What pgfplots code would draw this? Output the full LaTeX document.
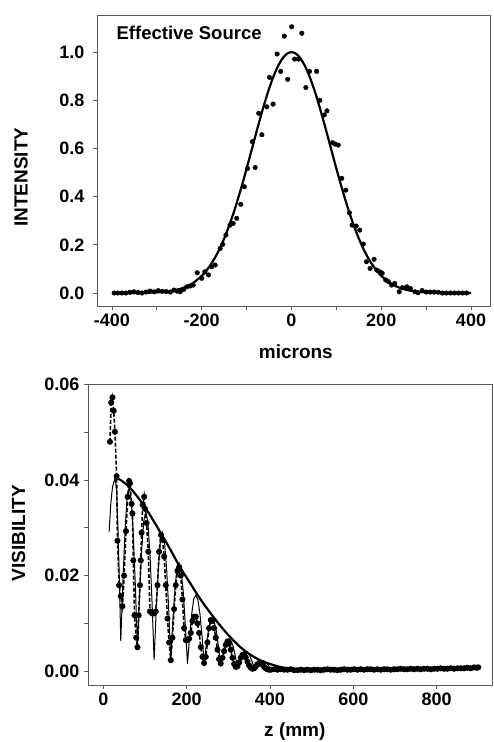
\documentclass[border=0pt]{standalone}
\usepackage{fontspec}
\setmainfont{Liberation Sans}
\usepackage{pgfplots}
\pgfplotsset{compat=1.18}
\pgfplotsset{
  mystyle/.style={
    scale only axis,
    axis line style={black!65, line width=0.8pt},
    tick style={black!65, line width=0.8pt},
    tick align=outside, major tick length=4pt, minor tick length=4pt,
    xtick pos=lower, ytick pos=left,
    ticklabel style={font=\fontsize{18}{20}\selectfont\bfseries},
    /pgf/number format/assume math mode=true,
    clip=true,
  }
}
\begin{document}
\begin{tikzpicture}[x=1pt,y=1pt]
\path[use as bounding box] (0,0) rectangle (493,-742);
% ---------------- top panel ----------------
\begin{axis}[mystyle,
  width=393pt, height=291pt,
  at={(97pt,-306pt)}, anchor=south west,
  xmin=-433.4, xmax=442.3, ymin=-0.054, ymax=1.154,
  xtick={-400,-200,0,200,400}, minor xtick={-300,-100,100,300},
  ytick={0,0.2,0.4,0.6,0.8,1.0},
  yticklabel style={/pgf/number format/fixed, /pgf/number format/fixed zerofill, /pgf/number format/precision=1, xshift=-5pt},
  xlabel={microns}, ylabel={INTENSITY},
  every axis x label/.style={at={(axis description cs:0.506,-0.158)},anchor=center,font=\fontsize{19}{22}\selectfont\bfseries},
  every axis y label/.style={at={(axis description cs:-0.193,0.443)},anchor=center,rotate=90,font=\fontsize{19}{22}\selectfont\bfseries},
]
\addplot[only marks, mark=*, mark size=2.3pt, black] coordinates {
(-395,0.0) (-387,0.0) (-378,0.0) (-369,0.0) (-360,0.003) (-351,0.005) (-342,0.002)
(-333,0.0) (-324,0.004) (-315,0.008) (-306,0.005) (-297,0.01) (-288,0.007) (-279,0.006)
(-270,0.004) (-262,0.012) (-255,0.008) (-248,0.005) (-240,0.015) (-233,0.026) (-226,0.029)
(-219,0.033) (-210,0.084) (-200,0.061) (-193,0.088) (-185,0.075) (-178,0.109) (-170,0.116)
(-159,0.185) (-153,0.202) (-146,0.241) (-137,0.282) (-130,0.289) (-122,0.31) (-113,0.368)
(-105,0.441) (-98,0.517) (-87,0.628) (-81,0.521) (-73,0.746) (-66,0.657) (-55,0.773)
(-49,0.895) (-41,0.784) (-32,0.992) (-24,0.92) (-16,1.066) (-8.5,0.887) (0.4,1.105)
(7,0.971) (16,0.971) (23,1.078) (32,0.853) (40,0.92) (56,0.92) (63,0.80) (73,0.739)
(79,0.756) (91,0.624) (97,0.618) (104,0.614) (112,0.476) (121,0.427) (129,0.333)
(135,0.282) (144,0.278) (152,0.261) (160,0.203) (167,0.130) (175,0.102) (184,0.140)
(190,0.095) (197,0.088) (202,0.082) (210,0.054) (216,0.047) (223,0.033) (230,0.040)
(240,0.005) (247,0.022) (257,0.026) (265,0.019) (275,0.005) (282,0.001) (291,0.01)
(300,0.004) (309,0.004) (318,0.004) (327,0.003) (336,0.0) (345,0.0) (354,0.0)
(363,0.0) (372,0.0) (381,0.0) (390,0.0)
};
\addplot[black, line width=2.2pt, smooth] coordinates {
(-400,0) (-360,0.0002) (-330,0.0008) (-300,0.0026) (-280,0.0056) (-260,0.0115)
(-240,0.0223) (-220,0.0409) (-200,0.0712) (-190,0.0921) (-180,0.1176) (-170,0.1482)
(-160,0.1843) (-150,0.2262) (-140,0.2740) (-130,0.3275) (-120,0.3862) (-110,0.4497)
(-100,0.5166) (-90,0.5856) (-80,0.6552) (-70,0.7235) (-60,0.7883) (-50,0.8478)
(-40,0.8997) (-30,0.9423) (-20,0.9739) (-10,0.9934) (0,1.0) (10,0.9934) (20,0.9739)
(30,0.9423) (40,0.8997) (50,0.8478) (60,0.7883) (70,0.7235) (80,0.6552) (90,0.5856)
(100,0.5166) (110,0.4497) (120,0.3862) (130,0.3275) (140,0.2740) (150,0.2262)
(160,0.1843) (170,0.1482) (180,0.1176) (190,0.0921) (200,0.0712) (220,0.0409)
(240,0.0223) (260,0.0115) (280,0.0056) (300,0.0026) (330,0.0008) (360,0.0002) (400,0)
};
\node[anchor=west, font=\fontsize{18.5}{21}\selectfont\bfseries] at (rel axis cs:0.041,0.938) {Effective Source};
\end{axis}
% ---------------- bottom panel ----------------
\begin{axis}[mystyle,
  width=404pt, height=301pt,
  at={(88pt,-685pt)}, anchor=south west,
  xmin=-36.7, xmax=933, ymin=-0.0029, ymax=0.0601,
  xtick={0,200,400,600,800},
  ytick={0,0.02,0.04,0.06}, minor ytick={0.01,0.03,0.05},
  yticklabel style={/pgf/number format/fixed, /pgf/number format/fixed zerofill, /pgf/number format/precision=2, xshift=-1pt},
  scaled y ticks=false,
  xlabel={z (mm)}, ylabel={VISIBILITY},
  every axis x label/.style={at={(axis description cs:0.512,-0.156)},anchor=center,font=\fontsize{19}{22}\selectfont\bfseries},
  every axis y label/.style={at={(axis description cs:-0.172,0.505)},anchor=center,rotate=90,font=\fontsize{19}{22}\selectfont\bfseries},
]
% theory (thin)
\addplot[black, line width=1pt] coordinates {
(14,0.0292) (18,0.035) (22,0.0385) (28,0.0404) (32,0.0378) (35,0.0304) (38.5,0.0194) (42,0.0063)
(47,0.0186) (52,0.0291) (57,0.0361) (62,0.0385) (67,0.0360) (72,0.0287) (77,0.0178) (82,0.005)
(87,0.0159) (92,0.0251) (97,0.0313) (102,0.0335) (107,0.0312) (112,0.0245) (117,0.0145) (122,0.0023)
(127,0.0128) (132,0.0213) (137,0.0270) (142,0.029) (147,0.0270) (152,0.0214) (157,0.0130) (162,0.0023)
(167,0.0107) (172,0.0173) (177,0.0217) (182,0.0226) (187,0.0210) (192,0.0165) (197,0.0095) (202,0.0015)
(207,0.0070) (212,0.0118) (217,0.0151) (222,0.0159) (227,0.0150) (232,0.0120) (237,0.0073) (242,0.0017)
(247,0.0053) (252,0.0083) (257,0.0103) (262,0.0108) (267,0.0100) (272,0.0080) (277,0.0048) (282,0.0014)
(287,0.0034) (292,0.0054) (297,0.0065) (302,0.0068) (307,0.0063) (312,0.0051) (317,0.0031) (322,0.0009)
(327,0.0023) (332,0.0034) (337,0.0040) (342,0.0042) (347,0.0039) (352,0.0032) (357,0.0020) (362,0.0006)
(367,0.0013) (372,0.0018) (377,0.0021) (382,0.0022) (387,0.0021) (392,0.0017) (397,0.0011) (402,0.0004)
(407,0.0006) (412,0.0008) (417,0.0009) (422,0.0010) (427,0.0009) (432,0.0007) (437,0.0005) (442,0.0002)
(452,0.0003) (462,0.0003) (472,0.0002) (482,0.0002) (500,0.0002)
};
% envelope (thick)
\addplot[black, line width=2.2pt, smooth] coordinates {
(28,0.0404) (40,0.0401) (64,0.0384) (88,0.0358) (112,0.0327) (136,0.0292) (160,0.0256)
(184,0.0218) (208,0.0185) (232,0.0152) (256,0.0123) (280,0.0096) (304,0.0072) (328,0.0051)
(352,0.0035) (376,0.0023) (400,0.0015) (424,0.0009) (448,0.0005) (472,0.0003) (500,0.0001) (520,0.0)
};
% measured (dashed with dots)
\addplot[black, line width=1.6pt, dash pattern=on 4pt off 2pt, mark=*, mark size=2.2pt,
  mark options={solid}] coordinates {
(16,0.048) (19,0.0562) (22,0.0573) (25,0.0545) (28,0.0501) (32,0.0408) (34,0.0273) (38,0.018)
(42,0.0157) (46,0.0136) (50,0.020) (54.5,0.0293) (58.5,0.0365) (62,0.0398) (64,0.0393) (68,0.035)
(70,0.033) (72,0.0232) (75,0.0117) (79,0.007) (82,0.005) (85,0.0117) (88,0.018) (90,0.0232)
(92,0.029) (94.5,0.0348) (98,0.0365) (100,0.034) (104,0.031) (108,0.025) (112,0.0125) (117,0.0121)
(122,0.0121) (126,0.0125) (130,0.018) (134,0.025) (138.5,0.0285) (142,0.0275) (146,0.024) (150,0.018)
(154,0.011) (158,0.006) (162,0.0023) (166,0.007) (170,0.013) (174,0.018) (178,0.021) (182,0.0218)
(186,0.020) (190,0.015) (194,0.009) (198,0.0065) (202,0.0065) (206,0.0068) (210,0.008) (214,0.0105)
(218,0.0114) (222,0.0114) (226,0.010) (230,0.008) (234,0.005) (238,0.003) (242,0.0017) (246,0.003)
(250,0.006) (254,0.009) (258,0.0107) (262,0.0105) (266,0.009) (270,0.007) (274,0.0045) (278,0.0025)
(282,0.0016) (286,0.0028) (290,0.0042) (294,0.0055) (298,0.0062) (302,0.0058) (306,0.0045) (310,0.0028)
(314,0.0015) (318,0.0009) (322,0.001) (326,0.0018) (330,0.0028) (334,0.0034) (338,0.0035) (342,0.0029)
(346,0.0020) (350,0.0012) (354,0.0007) (358,0.0005) (362,0.0006) (366,0.001) (370,0.0014) (374,0.0017)
(378,0.0017) (382,0.0014) (386,0.0009) (390,0.0006) (394,0.0004) (398,0.0003)
(402,0.0003) (410,0.0004) (418,0.0003) (426,0.0004) (434,0.0003) (442,0.0003) (450,0.0004)
(458,0.0002) (466,0.0002) (474,0.0003) (482,0.0002) (490,0.0003) (498,0.0002) (506,0.0003)
(514,0.0003) (522,0.0002) (530,0.0003) (538,0.0004) (546,0.0003) (554,0.0003) (562,0.0002)
(570,0.0003) (578,0.0004) (586,0.0003) (594,0.0003) (602,0.0004) (610,0.0003) (618,0.0004)
(626,0.0003) (634,0.0004) (642,0.0004) (650,0.0003) (658,0.0004) (666,0.0003) (674,0.0004)
(682,0.0004) (690,0.0003) (698,0.0004) (706,0.0004) (714,0.0005) (722,0.0004) (730,0.0004)
(738,0.0005) (746,0.0004) (754,0.0005) (762,0.0004) (770,0.0005) (778,0.0005) (786,0.0004)
(794,0.0005) (802,0.0005) (810,0.0006) (818,0.0005) (826,0.0005) (834,0.0006) (842,0.0005)
(850,0.0006) (858,0.0006) (866,0.0006) (874,0.0007) (882,0.0006) (890,0.0008) (896,0.0007)
(900,0.0008)
};
\end{axis}
\end{tikzpicture}
\end{document}
